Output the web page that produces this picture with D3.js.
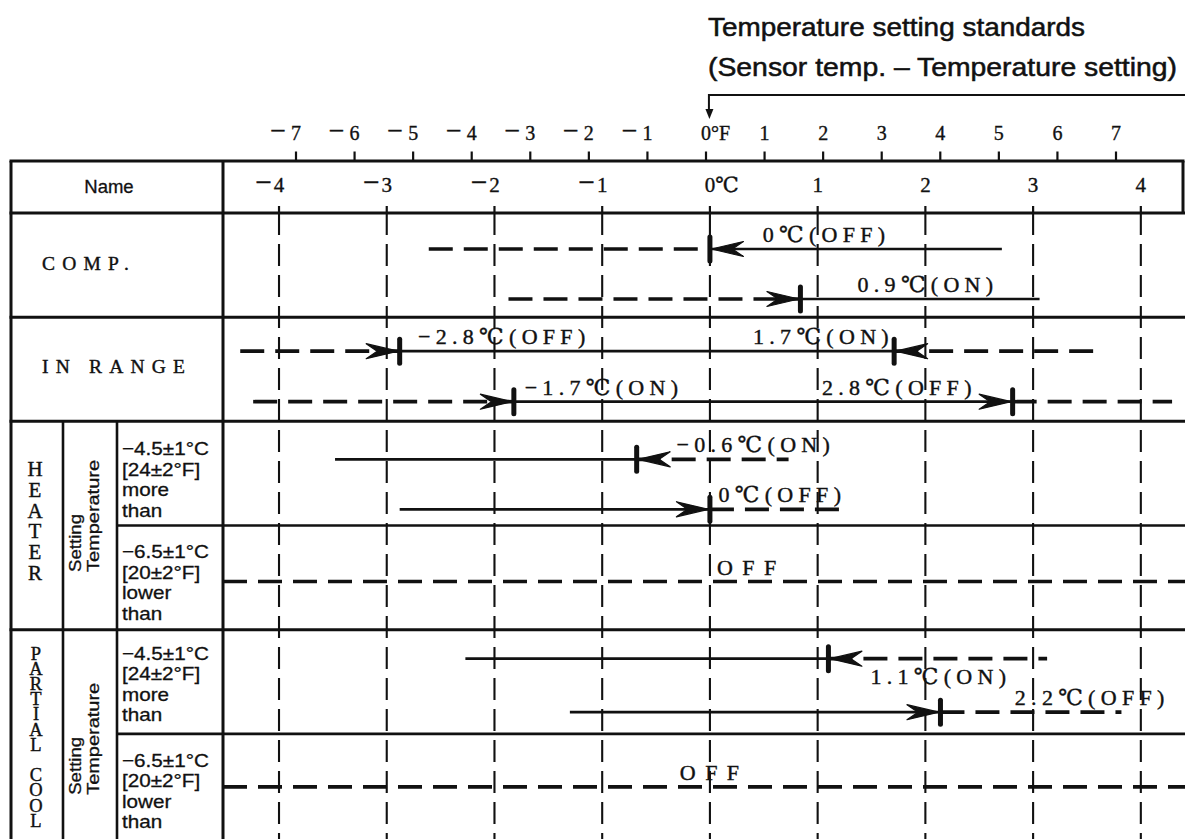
<!DOCTYPE html>
<html><head><meta charset="utf-8">
<script src="https://cdn.jsdelivr.net/npm/d3@7"></script>
<style>
body{margin:0;background:#fff;}
svg{display:block;}
</style></head><body>
<svg id="chart" width="1185" height="839"></svg>
<script>
// ---------------- data ----------------
const fahrenheitTicks  = [-7,-6,-5,-4,-3,-2,-1,0,1,2,3,4,5,6,7];
const fahrenheitLabels = ["−7","−6","−5","−4","−3","−2","−1","0°F","1","2","3","4","5","6","7"];
const celsiusTicks  = [-4,-3,-2,-1,0,1,2,3,4];
const celsiusLabels = ["−4","−3","−2","−1","0℃","1","2","3","4"];
const rowKeys  = ["COMP","INRANGE","H1","H2","P1","P2"];
const rowNames = ["COMP.","IN RANGE"];
const groupNames = ["HEATER","PARTIAL COOL"];
const settingLabel = ["Setting","Temperature"];
const conditionLines = [
  ["−4.5±1°C","[24±2°F]","more","than"],
  ["−6.5±1°C","[20±2°F]","lower","than"]
];
const headerName = "Name";
const titleLines = ["Temperature setting standards","(Sensor temp. – Temperature setting)"];

// line segments in °C: [row, track, from, to, dashed]
const segments = [
  ["COMP",0,-2.61,0.00,true],   ["COMP",0,0.00,2.71,false],
  ["COMP",1,-1.87,0.84,true],   ["COMP",1,0.84,3.06,false],
  ["INRANGE",0,-4.36,-2.88,true], ["INRANGE",0,-2.88,1.71,false], ["INRANGE",0,1.71,3.56,true],
  ["INRANGE",1,-4.24,-1.82,true], ["INRANGE",1,-1.82,2.81,false], ["INRANGE",1,2.81,4.29,true],
  ["H1",0,-3.48,-0.68,false],   ["H1",0,-0.68,0.73,true],
  ["H1",1,-2.88,0.00,false],    ["H1",1,0.00,1.26,true],
  ["H2",0,-4.52,4.41,true],
  ["P1",0,-2.27,1.10,false],    ["P1",0,1.10,3.13,true],
  ["P1",1,-1.30,2.14,false],    ["P1",1,2.14,3.82,true],
  ["P2",0,-4.52,4.41,true]
];
// switching points: [row, track, at °C, arrow direction (+1 rising, -1 falling)]
const switches = [
  ["COMP",0,0.00,-1], ["COMP",1,0.84,1],
  ["INRANGE",0,-2.88,1], ["INRANGE",0,1.71,-1],
  ["INRANGE",1,-1.82,1], ["INRANGE",1,2.81,1],
  ["H1",0,-0.68,-1], ["H1",1,0.00,1],
  ["P1",0,1.10,-1], ["P1",1,2.14,1]
];
// labels: [row, track, start °C, text, below]
const labels = [
  ["COMP",0,0.49,"0℃(OFF)",false],
  ["COMP",1,1.37,"0.9℃(ON)",false],
  ["INRANGE",0,-2.71,"−2.8℃(OFF)",false],
  ["INRANGE",0,0.40,"1.7℃(ON)",false],
  ["INRANGE",1,-1.72,"−1.7℃(ON)",false],
  ["INRANGE",1,1.04,"2.8℃(OFF)",false],
  ["H1",0,-0.31,"−0.6℃(ON)",false],
  ["H1",1,0.08,"0℃(OFF)",false],
  ["H2",0,0.065,"OFF",false],
  ["P1",0,1.49,"1.1℃(ON)",true],
  ["P1",1,2.83,"2.2℃(OFF)",false],
  ["P2",0,-0.28,"OFF",false]
];

// ---------------- layout ----------------
const W = 1185, H = 839;
const SERIF = '"Liberation Serif","DejaVu Serif",serif';
const SANS = '"Liberation Sans",Arial,sans-serif';
const INK = "#111";
const svg = d3.select("#chart");

const xC = d3.scaleLinear().domain([-4.52, 4.41]).range([223, 1185]);
const xF = d3.scaleLinear().domain([-7, 7]).range([296, 1116]);
const yRow = d3.scaleBand().domain(rowKeys).range([213, 838]);
const trackOffset = {COMP:[36,86], INRANGE:[34,84.5], H1:[38,88], H2:[56], P1:[29,82.5], P2:[53]};
const yTrack = (r, t) => yRow(r) + trackOffset[r][t];

const tableLeft = 11, nameRight = 223, col1 = 63, col2 = 117, tableTop = 161, headBottom = 213;

// ---- title & bracket ----
const title = svg.append("g").attr("font-family", SANS).attr("font-size", 25).attr("fill", INK)
  .attr("stroke", INK).attr("stroke-width", 0.5);
title.append("text").attr("x", 708).attr("y", 35.5).attr("textLength", 377)
  .attr("lengthAdjust", "spacingAndGlyphs").text(titleLines[0]);
title.append("text").attr("x", 708).attr("y", 76).attr("textLength", 469)
  .attr("lengthAdjust", "spacingAndGlyphs").text(titleLines[1]);
const x0 = xC(0);
svg.append("path").attr("d", `M${W},95 H${x0 - 1} V111`).attr("fill", "none")
  .attr("stroke", INK).attr("stroke-width", 2);
svg.append("path").attr("d", `M${x0 - 4.5},109 L${x0 + 3.5},109 L${x0 - 0.5},119 Z`).attr("fill", INK);

// ---- axis labels: digit centred on the tick, minus to the left, unit to the right ----
function axisLabel(g, x, y, label, size, gap) {
  const half = size * 0.25;
  const t = g.append("text").attr("y", y);
  if (label.startsWith("−")) {
    t.attr("x", x + half).attr("text-anchor", "end");
    t.append("tspan").attr("font-size", size * 1.4).text("−");
    t.append("tspan").attr("dx", gap).text(label.slice(1));
  } else {
    t.attr("x", x - half).attr("text-anchor", "start").text(label);
  }
}

// Fahrenheit axis
const gF = svg.append("g").attr("font-family", SERIF).attr("font-size", 20).attr("fill", INK)
  .attr("stroke", INK).attr("stroke-width", 0.35);
fahrenheitTicks.forEach((v, i) => {
  axisLabel(gF, xF(v), 140, fahrenheitLabels[i], 20, 5);
  svg.append("line").attr("x1", xF(v)).attr("x2", xF(v)).attr("y1", 151.5).attr("y2", tableTop)
    .attr("stroke", INK).attr("stroke-width", 2.2);
});

// Celsius axis
const gC = svg.append("g").attr("font-family", SERIF).attr("font-size", 21).attr("fill", INK)
  .attr("stroke", INK).attr("stroke-width", 0.35);
celsiusTicks.forEach((v, i) => {
  axisLabel(gC, xC(v), 192, celsiusLabels[i], 21, 2);
  svg.append("line").attr("x1", xC(v)).attr("x2", xC(v)).attr("y1", 206).attr("y2", headBottom)
    .attr("stroke", INK).attr("stroke-width", 2.2);
  svg.append("line").attr("x1", xC(v)).attr("x2", xC(v)).attr("y1", headBottom).attr("y2", H)
    .attr("stroke", INK).attr("stroke-width", 2.1).attr("stroke-dasharray", "22,9");
});

// ---- table frame ----
const frame = svg.append("g").attr("stroke", INK).attr("fill", "none");
function hl(y, xa, xb, w) { frame.append("line").attr("x1", xa).attr("x2", xb).attr("y1", y).attr("y2", y).attr("stroke-width", w); }
function vl(x, ya, yb, w) { frame.append("line").attr("x1", x).attr("x2", x).attr("y1", ya).attr("y2", yb).attr("stroke-width", w); }
hl(tableTop, tableLeft - 1.5, 1184.5, 3);
hl(headBottom, tableLeft - 1.5, W, 3);
hl(yRow("INRANGE"), tableLeft - 1.5, W, 3);
hl(yRow("H1"), tableLeft - 1.5, W, 3);
hl(yRow("H2"), col2, W, 2.6);
hl(yRow("P1"), tableLeft - 1.5, W, 3);
hl(yRow("P2"), col2, W, 2.6);
vl(tableLeft, tableTop, H, 3);
vl(nameRight, tableTop, H, 3);
vl(1183, tableTop, headBottom, 3);
vl(col1, yRow("H1"), H, 2.6);
vl(col2, yRow("H1"), H, 2.6);

// ---- left column text ----
svg.append("text").attr("x", 109).attr("y", 193).attr("text-anchor", "middle")
  .attr("font-family", SANS).attr("font-size", 18.5).attr("fill", INK)
  .attr("stroke", INK).attr("stroke-width", 0.3).text(headerName);
const gN = svg.append("g").attr("font-family", SERIF).attr("font-size", 19.5).attr("fill", INK)
  .attr("stroke", INK).attr("stroke-width", 0.4).attr("letter-spacing", 7.2);
gN.append("text").attr("x", 42).attr("y", yRow("COMP") + 57).text(rowNames[0]);
gN.append("text").attr("x", 42).attr("y", yRow("INRANGE") + 56).text(rowNames[1]);

// vertical stacked group names: one vertical-writing text each, pitch fitted at runtime
function verticalWord(word, cx, top, size, pitch) {
  const t = svg.append("text").attr("x", cx).attr("y", top)
    .attr("font-family", SERIF).attr("font-size", size).attr("fill", INK)
    .attr("stroke", INK).attr("stroke-width", 0.4)
    .style("writing-mode", "vertical-rl").style("text-orientation", "upright")
    .text(word);
  const natural = t.node().getComputedTextLength() / word.length;
  t.attr("letter-spacing", pitch - natural);
  return t;
}
verticalWord(groupNames[0], 35, yRow("H1") + 36, 21, 20.7);
verticalWord(groupNames[1], 36, yRow("P1") + 14, 18.5, 15.2);

// rotated "Setting / Temperature"
[yRow("H2") + 46.5, yRow("P2") + 61].forEach(ys => {
  const g = svg.append("g").attr("font-family", SANS).attr("font-size", 16).attr("fill", INK)
    .attr("stroke", INK).attr("stroke-width", 0.3);
  g.append("text").attr("transform", `translate(81,${ys}) rotate(-90)`)
    .attr("textLength", 58).attr("lengthAdjust", "spacingAndGlyphs").text(settingLabel[0]);
  g.append("text").attr("transform", `translate(99,${ys}) rotate(-90)`)
    .attr("textLength", 112).attr("lengthAdjust", "spacingAndGlyphs").text(settingLabel[1]);
});

// condition cells (slightly widened glyphs, line boxes kept apart)
const condCells = [["H1",0,34],["H2",1,33],["P1",0,30],["P2",1,33]];
const gT = svg.append("g").attr("transform", "translate(122,0) scale(1.13,1)")
  .attr("font-family", SANS).attr("font-size", 18.3).attr("fill", INK)
  .attr("stroke", INK).attr("stroke-width", 0.3);
condCells.forEach(([r, k, off]) => {
  conditionLines[k].forEach((s, j) => {
    gT.append("text").attr("x", 0).attr("y", yRow(r) + off + j * 20.5).text(s);
  });
});

// ---- data lines ----
const gD = svg.append("g").attr("stroke", INK).attr("fill", "none");
segments.forEach(([r, t, a, b, dashed]) => {
  const y = yTrack(r, t);
  const ln = gD.append("line").attr("x1", xC(a)).attr("x2", xC(b)).attr("y1", y).attr("y2", y);
  if (dashed) ln.attr("stroke-width", 3.6).attr("stroke-dasharray", "24,11");
  else ln.attr("stroke-width", 2.7);
});

// switching markers
const gS = svg.append("g");
switches.forEach(([r, t, at, dir]) => {
  const y = yTrack(r, t), x = xC(at);
  gS.append("line").attr("x1", x).attr("x2", x).attr("y1", y - 12).attr("y2", y + 12)
    .attr("stroke", INK).attr("stroke-width", 5).attr("stroke-linecap", "round");
  const tip = x - dir * 1.5;
  gS.append("path")
    .attr("d", `M${tip},${y} L${tip - dir * 32},${y - 7.5} L${tip - dir * 21},${y} L${tip - dir * 32},${y + 7.5} Z`)
    .attr("fill", INK).attr("stroke", INK).attr("stroke-width", 1.2).attr("stroke-linejoin", "round");
});

// labels
const gL = svg.append("g").attr("font-family", SERIF).attr("font-size", 22).attr("fill", INK)
  .attr("stroke", INK).attr("stroke-width", 0.4);
labels.forEach(([r, t, at, txt, below]) => {
  gL.append("text").attr("x", xC(at)).attr("y", yTrack(r, t) + (below ? 25 : -7))
    .attr("letter-spacing", txt === "OFF" ? 9.5 : 5.3).text(txt);
});
</script>
</body></html>
